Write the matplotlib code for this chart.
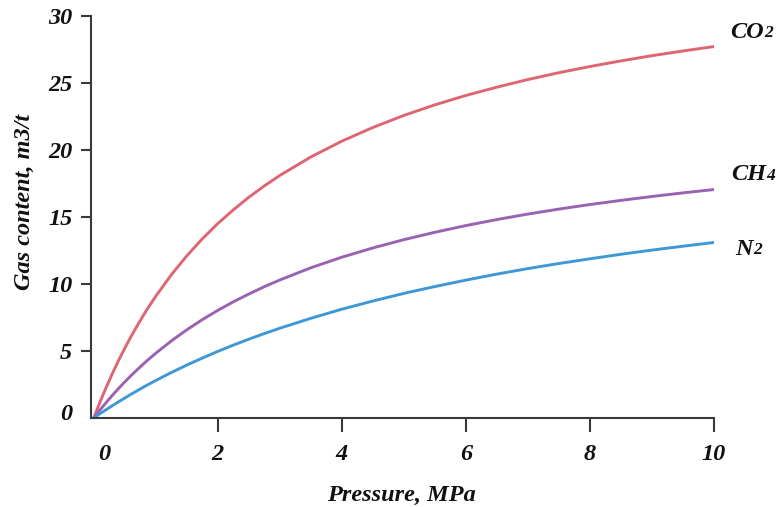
import matplotlib
matplotlib.use("Agg")
import matplotlib.pyplot as plt
from matplotlib.transforms import ScaledTranslation

pressure = [0, 0.1, 0.2, 0.3, 0.4, 0.5, 0.6, 0.7, 0.8, 0.9, 1.0, 1.25, 1.5, 1.75, 2, 2.25, 2.5, 2.75, 3,
            3.5, 4, 4.5, 5, 5.5, 6, 6.5, 7, 7.5, 8, 8.5, 9, 9.5, 10]
co2 = [0, 1.18, 2.28, 3.31, 4.29, 5.20, 6.07, 6.88, 7.66, 8.39, 9.09, 10.68, 12.10, 13.37, 14.51, 15.53, 16.47, 17.32, 18.10,
       19.48, 20.66, 21.68, 22.58, 23.37, 24.07, 24.69, 25.26, 25.77, 26.23, 26.65, 27.04, 27.39, 27.72]
ch4 = [0, 0.59, 1.15, 1.69, 2.20, 2.69, 3.16, 3.60, 4.03, 4.44, 4.83, 5.75, 6.58, 7.34, 8.03, 8.67, 9.25, 9.80, 10.30,
       11.21, 12.00, 12.69, 13.31, 13.86, 14.36, 14.81, 15.22, 15.59, 15.93, 16.24, 16.53, 16.80, 17.05]
n2 = [0, 0.32, 0.62, 0.92, 1.21, 1.49, 1.77, 2.03, 2.30, 2.55, 2.80, 3.39, 3.95, 4.47, 4.97, 5.44, 5.88, 6.30, 6.70,
      7.44, 8.12, 8.73, 9.30, 9.81, 10.29, 10.74, 11.15, 11.53, 11.88, 12.22, 12.53, 12.82, 13.10]
x_ticks = [0, 2, 4, 6, 8, 10]
y_ticks = [0, 5, 10, 15, 20, 25, 30]
series_names = [("CO", "2"), ("CH", "4"), ("N", "2")]
colors = ["#de6673", "#9a62b2", "#3f98d6"]

FONT = "Liberation Serif"
fs = 17.5
tkw = dict(fontfamily=FONT, fontstyle="italic", fontweight="bold", fontsize=fs, color="#111111")

fig = plt.figure(figsize=(7.76, 5.07), dpi=100)
ax = fig.add_axes([91 / 776, 89 / 507, (714 - 91) / 776, (418 - 16) / 507])

for ys, c in zip([co2, ch4, n2], colors):
    ax.plot(pressure, ys, color=c, lw=2.1, solid_capstyle="round", solid_joinstyle="round")

ax.set_xlim(-0.044, 10)
ax.set_ylim(0, 30)
for s in ["top", "right"]:
    ax.spines[s].set_visible(False)
for s in ["left", "bottom"]:
    ax.spines[s].set_color("#3a3a3a")
    ax.spines[s].set_linewidth(1.5)

ax.set_xticks(x_ticks)
ax.set_yticks(y_ticks)
ax.set_xticklabels([str(v) for v in x_ticks], **tkw)
ax.set_yticklabels([str(v) for v in y_ticks], **tkw)
ax.tick_params(axis="x", direction="out", length=10, width=1.5, color="#3a3a3a", pad=9)
ax.tick_params(axis="y", direction="out", length=7.5, width=1.5, color="#3a3a3a", pad=6)

# hide the zero tick marks (they sit under the spines)
ax.xaxis.get_major_ticks()[0].tick1line.set_visible(False)
ax.yaxis.get_major_ticks()[0].tick1line.set_visible(False)
# nudge zero labels like the reference
xl0 = ax.get_xticklabels()[0]
xl0.set_transform(xl0.get_transform() + ScaledTranslation(10 / 100, 0, fig.dpi_scale_trans))
yl0 = ax.get_yticklabels()[0]
yl0.set_transform(yl0.get_transform() + ScaledTranslation(0, 6 / 100, fig.dpi_scale_trans))

fig.text(401 / 776, 1 - 495 / 507, "Pressure, MPa", ha="center", va="center", **tkw)
fig.text(24 / 776, 1 - 202 / 507, "Gas content, m3/t", ha="center", va="center", rotation=90, **tkw)

label_pos = [(730, 32), (731, 175), (735, 249)]
for (main, sub), (px, py) in zip(series_names, label_pos):
    t = fig.text(px / 776, 1 - py / 507, main, ha="left", va="center", **tkw)
    ax.annotate(sub, xy=(1, 0), xycoords=t, xytext=(0.5, 1), textcoords="offset points",
                fontfamily=FONT, fontstyle="italic", fontweight="bold", fontsize=fs * 0.72,
                color="#111111", ha="left", va="bottom", annotation_clip=False)

fig.savefig("out.png", dpi=100)
